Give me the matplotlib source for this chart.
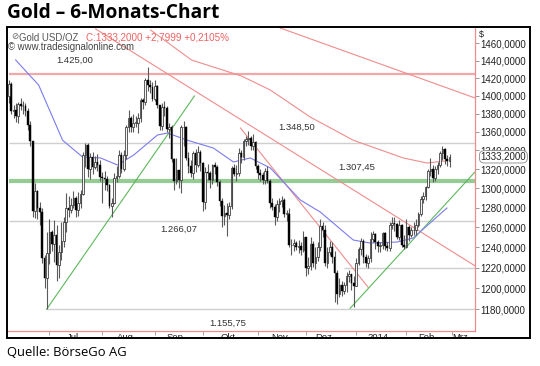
import numpy as np
import matplotlib
matplotlib.use("Agg")
import matplotlib.pyplot as plt
from matplotlib.patches import Rectangle
from matplotlib.ticker import FixedLocator, NullLocator

# daily bars, Jun 6 2013 .. Feb 28 2014 (trading days)
close = [
    1413, 1383, 1384, 1377, 1391, 1389, 1388, 1383, 1368, 1350, 1277, 1297, 1280, 1276, 1229, 1210, 1234,  # Jun
    1255, 1243, 1252, 1223, 1235, 1246, 1265, 1280, 1278, 1283, 1290, 1278, 1285, 1294, 1335, 1346, 1320, 1333, 1322, 1328, 1325, 1312,  # Jul
    1311, 1310, 1303, 1282, 1285, 1311, 1313, 1335, 1320, 1335, 1365, 1375, 1365, 1370, 1370, 1375, 1395, 1393, 1418, 1412, 1410, 1396,  # Aug
    1411, 1390, 1367, 1387, 1386, 1363, 1365, 1331, 1308, 1319, 1309, 1365, 1365, 1332, 1323, 1316, 1337, 1324, 1338, 1327,  # Sep
    1286, 1317, 1316, 1309, 1324, 1322, 1307, 1287, 1272, 1275, 1273, 1282, 1321, 1315, 1316, 1337, 1333, 1350, 1352, 1353, 1345, 1349, 1323,  # Okt
    1316, 1314, 1309, 1318, 1308, 1285, 1281, 1271, 1284, 1287, 1288, 1274, 1274, 1242, 1242, 1244, 1240, 1241, 1237, 1250,  # Nov
    1220, 1222, 1243, 1225, 1230, 1240, 1261, 1257, 1225, 1235, 1240, 1230, 1215, 1195, 1203, 1197, 1203, 1212, 1214, 1205, 1202,  # Dez
    1225, 1238, 1246, 1230, 1225, 1229, 1248, 1253, 1245, 1241, 1242, 1254, 1241, 1239, 1262, 1264, 1263, 1250, 1262, 1242, 1240,  # Jan
    1260, 1252, 1257, 1257, 1262, 1274, 1289, 1292, 1301, 1318, 1320, 1311, 1320, 1324, 1337, 1342, 1331, 1329, 1333.2,  # Feb
]
high = [
    1418, 1416, 1390, 1392, 1393, 1397, 1394, 1392, 1386, 1372, 1350, 1306, 1298, 1286, 1280, 1232, 1255,
    1268, 1257, 1267, 1262, 1242, 1265, 1270, 1295, 1292, 1290, 1297, 1292, 1296, 1298, 1338, 1348, 1348, 1337, 1338, 1334, 1336, 1330,
    1317, 1318, 1313, 1305, 1290, 1316, 1323, 1340, 1338, 1340, 1368, 1384, 1378, 1380, 1378, 1381, 1397, 1398, 1420, 1433, 1418, 1415,
    1418, 1412, 1390, 1392, 1394, 1388, 1370, 1368, 1332, 1332, 1318, 1368, 1372, 1366, 1338, 1330, 1339, 1342, 1345, 1340,
    1328, 1322, 1326, 1318, 1326, 1328, 1325, 1309, 1290, 1283, 1285, 1286, 1323, 1326, 1325, 1343, 1341, 1352, 1356, 1361, 1356, 1358, 1350,
    1326, 1320, 1317, 1321, 1323, 1310, 1290, 1284, 1288, 1290, 1292, 1290, 1278, 1280, 1248, 1248, 1246, 1247, 1245, 1256,
    1242, 1230, 1250, 1246, 1240, 1245, 1268, 1265, 1262, 1240, 1246, 1245, 1236, 1218, 1210, 1207, 1206, 1216, 1218, 1214, 1212,
    1229, 1240, 1249, 1248, 1233, 1232, 1255, 1256, 1254, 1247, 1245, 1255, 1255, 1245, 1265, 1270, 1270, 1264, 1267, 1263, 1252,
    1268, 1262, 1260, 1265, 1268, 1276, 1292, 1296, 1302, 1320, 1332, 1325, 1323, 1328, 1339, 1345, 1343, 1335, 1336,
]
low = [
    1392, 1380, 1375, 1371, 1370, 1384, 1380, 1377, 1362, 1345, 1270, 1269, 1268, 1262, 1225, 1200, 1180,
    1224, 1236, 1226, 1207, 1210, 1228, 1240, 1255, 1270, 1275, 1280, 1270, 1272, 1280, 1293, 1322, 1312, 1310, 1315, 1320, 1318, 1308,
    1285, 1298, 1297, 1280, 1271, 1284, 1307, 1311, 1316, 1318, 1331, 1360, 1360, 1360, 1365, 1359, 1371, 1385, 1390, 1405, 1403, 1394,
    1394, 1386, 1362, 1362, 1377, 1360, 1353, 1328, 1298, 1305, 1300, 1295, 1345, 1330, 1316, 1312, 1310, 1317, 1322, 1318,
    1277, 1279, 1309, 1300, 1305, 1315, 1302, 1282, 1260, 1262, 1251, 1268, 1279, 1313, 1308, 1313, 1327, 1330, 1345, 1346, 1341, 1340, 1320,
    1310, 1308, 1304, 1304, 1306, 1280, 1278, 1262, 1266, 1276, 1281, 1270, 1266, 1240, 1232, 1236, 1237, 1234, 1232, 1235,
    1212, 1214, 1218, 1221, 1219, 1227, 1236, 1250, 1222, 1220, 1232, 1225, 1187, 1185, 1192, 1193, 1195, 1196, 1206, 1198, 1182,
    1202, 1223, 1232, 1225, 1221, 1220, 1226, 1245, 1238, 1235, 1235, 1238, 1237, 1236, 1236, 1258, 1256, 1248, 1247, 1240, 1238,
    1239, 1246, 1250, 1252, 1252, 1260, 1272, 1285, 1288, 1300, 1313, 1307, 1308, 1315, 1322, 1330, 1326, 1323, 1322,
]
first_open = 1400

# month boundaries (trading-day index) and labels
month_ticks = [17, 39, 61, 81, 104, 124, 145, 166, 185]
month_label_pos = [27, 48.5, 69.5, 91.5, 113, 131.5, 154, 174.5, 188.5]
month_labels = ["Jul", "Aug", "Sep", "Okt", "Nov", "Dez", "2014", "Feb", "Mrz"]

# moving averages
ma_blue_x = [2.9, 12.5, 22.5, 30.8, 38.3, 45.4, 52.1, 62.1, 66.3, 74.6, 85.4, 93.8, 100.8, 109.2, 121.7, 130, 143.8, 150.8, 162.1, 168.8, 182.9]
ma_blue_y = [1440.6, 1412, 1351, 1333, 1332, 1324.5, 1335, 1356.7, 1358.8, 1351, 1342.6, 1327.7, 1332, 1321.3, 1287.9, 1275.6, 1247.3, 1244.3, 1245.3, 1249.3, 1279.7]
ma_red_x = [59.2, 76.3, 97.1, 109.2, 125.8, 143.8, 164.6, 174.6, 182.9]
ma_red_y = [1475.6, 1440.6, 1422.3, 1406.4, 1376.4, 1351, 1332, 1326.6, 1329]

# trend lines: (x0, y0, x1, y1)
red_trends = [(36.25, 1476.9, 194.6, 1221.8), (113.3, 1478, 194.6, 1397.5), (96.7, 1364.4, 150, 1201)]
green_trends = [(15.8, 1180, 77.5, 1399.7), (142.5, 1181, 194.6, 1317.2)]

# horizontal levels and their labels
levels = [1425.0, 1348.5, 1266.07, 1220.0, 1180.0]
level_start = [0, 0, 0, 140, 15.8]
level_labels = ["1.425,00", "1.348,50", "1.307,45", "1.266,07", "1.155,75"]
label_x = [27.5, 120, 145.4, 70.8, 91.25]
label_y = [1440.6, 1365.4, 1322.3, 1258.4, 1167.1]
green_level = 1307.45

yticks = list(range(1180, 1461, 20))
last_price = 1333.2

close = np.array(close, dtype=float)
high = np.array(high, dtype=float)
low = np.array(low, dtype=float)
days = np.arange(len(close))
opens = np.concatenate([[first_open], close[:-1]])

W, H = 540, 366
fig = plt.figure(figsize=(W / 100, H / 100), dpi=100)
ax = fig.add_axes([8 / W, 1 - 331 / H, (475 - 8) / W, (331 - 28) / H])
ax.set_yscale("log")
ax.set_xlim(-0.3, 194.6)
ax.set_ylim(1159.7, 1478)

red = "#f08c8c"
grey = "#cfcfcf"

# horizontal levels
for v, s in zip(levels, level_start):
    if v == 1425.0:
        ax.hlines(v, s, 194.6, color="#f2a8a8", lw=1.6, zorder=1)
    else:
        ax.hlines(v, s, 194.6, color=grey, lw=1.0, zorder=1)
ax.hlines(green_level, 0, 194.6, color="#94cc94", lw=3.0, zorder=1)

for lab, lx, ly in zip(level_labels, label_x, label_y):
    ax.text(lx, ly, lab, ha="center", va="center", fontsize=6.8,
            family="Liberation Sans", color="#333333", zorder=6)

# trend lines
for x0, y0, x1, y1 in red_trends:
    ax.plot([x0, x1], [y0, y1], color=red, lw=0.8, zorder=2)
for x0, y0, x1, y1 in green_trends:
    ax.plot([x0, x1], [y0, y1], color="#5cb85c", lw=0.8, zorder=2)

ax.plot(ma_red_x, ma_red_y, color=red, lw=0.8, zorder=2)
ax.plot(ma_blue_x, ma_blue_y, color="#7b7bf0", lw=0.8, zorder=2)

# candles
ax.vlines(days, low, high, color="#5a5a5a", lw=0.8, zorder=3)
up = close >= opens
body_h = np.maximum(np.abs(close - opens), 0.8)
body_b = np.minimum(close, opens)
ax.bar(days[~up], body_h[~up], bottom=body_b[~up], width=0.7, color="black",
       edgecolor="black", lw=0.3, zorder=4)
ax.bar(days[up], body_h[up], bottom=body_b[up], width=0.7, color="#f4f4f4",
       edgecolor="#222222", lw=0.5, zorder=4)

# axes styling
for sp in ["left", "top"]:
    ax.spines[sp].set_visible(False)
ax.spines["right"].set_color(red)
ax.spines["bottom"].set_color(red)
ax.spines["right"].set_linewidth(0.9)
ax.spines["bottom"].set_linewidth(0.9)

ax.yaxis.tick_right()
ax.yaxis.set_major_locator(FixedLocator(yticks))
ax.yaxis.set_minor_locator(NullLocator())
ax.set_yticklabels([f"{v},0000" for v in yticks])
ax.tick_params(axis="y", which="major", direction="out", length=3, width=0.6,
               color="#888888", labelsize=7, labelcolor="#222222", pad=1)
for t in ax.get_yticklabels():
    t.set_family("Liberation Sans")

ax.xaxis.set_major_locator(FixedLocator(month_ticks))
ax.xaxis.set_minor_locator(FixedLocator(month_label_pos))
ax.xaxis.set_major_formatter(plt.NullFormatter())
ax.xaxis.set_minor_formatter(plt.FixedFormatter(month_labels))
ax.tick_params(axis="x", which="major", direction="out", length=3, width=0.6, color="#999999")
ax.tick_params(axis="x", which="minor", length=0, labelsize=6.8, labelcolor="#222222", pad=1.5)
for t in ax.get_xticklabels(minor=True):
    t.set_family("Liberation Sans")

# header inside chart
ax.text(0.006, 0.987, "\u2298", transform=ax.transAxes, fontsize=6.3,
        family=["DejaVu Sans"], color="#666666", va="top", ha="left")
ax.text(0.024, 0.985, "Gold USD/OZ", transform=ax.transAxes, fontsize=6.9,
        family="Liberation Sans", color="#555555", va="top", ha="left")
ax.text(0.166, 0.985, "C:1333,2000 +2,7999 +0,2105%", transform=ax.transAxes, fontsize=7.1,
        family="Liberation Sans", color="#f06060", va="top", ha="left")
ax.text(0.0, 0.953, "\u00a9 www.tradesignalonline.com", transform=ax.transAxes, fontsize=6.9,
        family="Liberation Sans", color="#444444", va="top", ha="left")
ax.text(1.008, 0.995, "$", transform=ax.transAxes, fontsize=6.5,
        family="Liberation Sans", color="#222222", va="top", ha="left", clip_on=False)

# last price tag
ax.annotate("1333,2000", xy=(194.6, last_price), xytext=(4, 0), textcoords="offset points",
            fontsize=7, family="Liberation Sans", color="#222222", va="center", ha="left",
            annotation_clip=False, zorder=10,
            bbox=dict(boxstyle="round,pad=0.12,rounding_size=0.5", fc="white", ec="#888888", lw=0.6))

# white strip below frame hides lower half of month labels, then the black frame
fig.patches.append(Rectangle((0, 0), 1, 1 - 339 / H, transform=fig.transFigure,
                             fc="white", ec="none", zorder=20))
fig.patches.append(Rectangle((7 / W, 1 - 338 / H), (530 - 7) / W, (338 - 27) / H,
                             transform=fig.transFigure, fill=False, ec="black", lw=1.4, zorder=21))

fig.text(7 / W, 1 - 13 / H, "Gold \u2013 6-Monats-Chart", fontsize=13.8, fontweight="bold",
         family="Open Sans", va="center", ha="left", color="black", zorder=22)
fig.text(7 / W, 1 - 353 / H, "Quelle: B\u00f6rseGo AG", fontsize=9.4,
         family="Open Sans", va="center", ha="left", color="black", zorder=22)

fig.savefig("out.png", dpi=100)
